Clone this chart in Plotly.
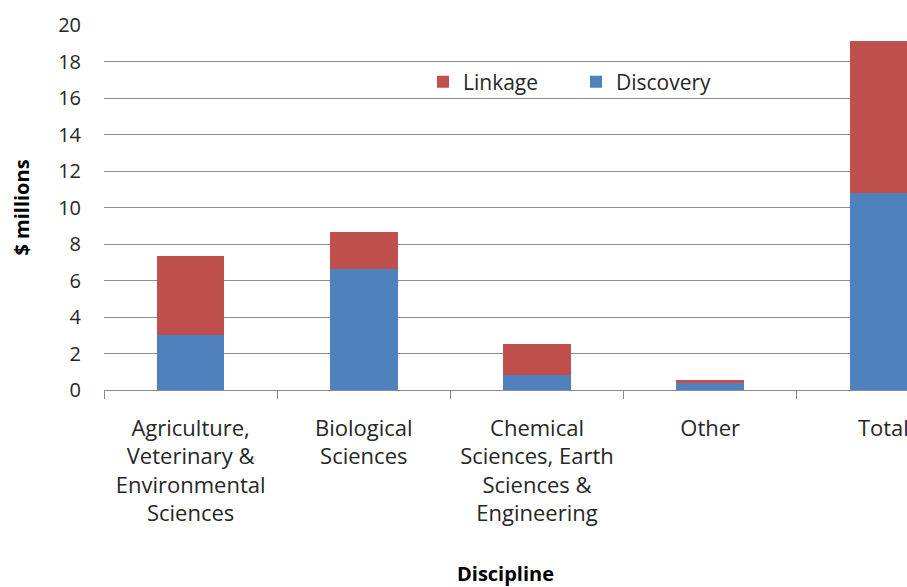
import plotly.graph_objects as go

# Funding by discipline, $ millions
categories = [
    "Agriculture,<br>Veterinary &<br>Environmental<br>Sciences",
    "Biological<br>Sciences",
    "Chemical<br>Sciences, Earth<br>Sciences &<br>Engineering",
    "Other",
    "Total",
]
discovery = [3.0, 6.61, 0.80, 0.37, 10.78]
linkage = [4.34, 2.05, 1.70, 0.20, 8.36]

y_ticks = [0, 2, 4, 6, 8, 10, 12, 14, 16, 18, 20]

FONT = "Open Sans"
TEXT = "#262626"

W, H = 907, 587
ML, MR, MT, MB = 104, 0, 25, 197
plot_w = W - ML - MR
plot_h = H - MT - MB
cat_px = 173.2  # width of one category slot

fig = go.Figure()
fig.add_trace(go.Bar(
    x=categories, y=discovery, name="Discovery",
    marker=dict(color="#4F81BD", line=dict(width=0)),
    width=0.39,
))
fig.add_trace(go.Bar(
    x=categories, y=linkage, name="Linkage",
    marker=dict(color="#C0504D", line=dict(width=0)),
    width=0.39,
))

fig.update_layout(
    width=W, height=H,
    margin=dict(l=ML, r=MR, t=MT, b=MB, autoexpand=False),
    paper_bgcolor="white", plot_bgcolor="white",
    barmode="stack",
    font=dict(family=FONT, size=20, color=TEXT),
    showlegend=True,
    legend=dict(
        orientation="h", traceorder="reversed",
        x=(423 - ML) / plot_w, xanchor="left",
        y=1 - (82 - MT) / plot_h, yanchor="middle",
        entrywidth=108, entrywidthmode="pixels",
        bgcolor="rgba(255,255,255,0)",
        font=dict(family=FONT, size=21, color=TEXT),
    ),
)

fig.update_xaxes(
    type="category",
    range=[-0.5, -0.5 + plot_w / cat_px],
    showgrid=False,
    showline=True, linecolor="#8c8c8c", linewidth=1.3,
    ticks="outside", tickson="boundaries", ticklen=8,
    tickcolor="#8c8c8c", tickwidth=1.3,
    ticklabelstandoff=18,
    tickfont=dict(family=FONT, size=22, color=TEXT),
    title=dict(text="<b>Discipline</b>", standoff=52,
               font=dict(family=FONT, size=20, color="#000000")),
    automargin=False,
)
fig.update_yaxes(
    range=[0, 20],
    tickvals=y_ticks,
    showgrid=True, gridcolor="#8c8c8c", gridwidth=1.3,
    showline=False, zeroline=False,
    ticks="", ticklabelstandoff=22,
    tickfont=dict(family=FONT, size=20, color=TEXT),
    title=dict(text="<b>$ millions</b>", standoff=23,
               font=dict(family=FONT, size=20, color="#000000")),
    automargin=False,
)

fig.write_html("out.html")
